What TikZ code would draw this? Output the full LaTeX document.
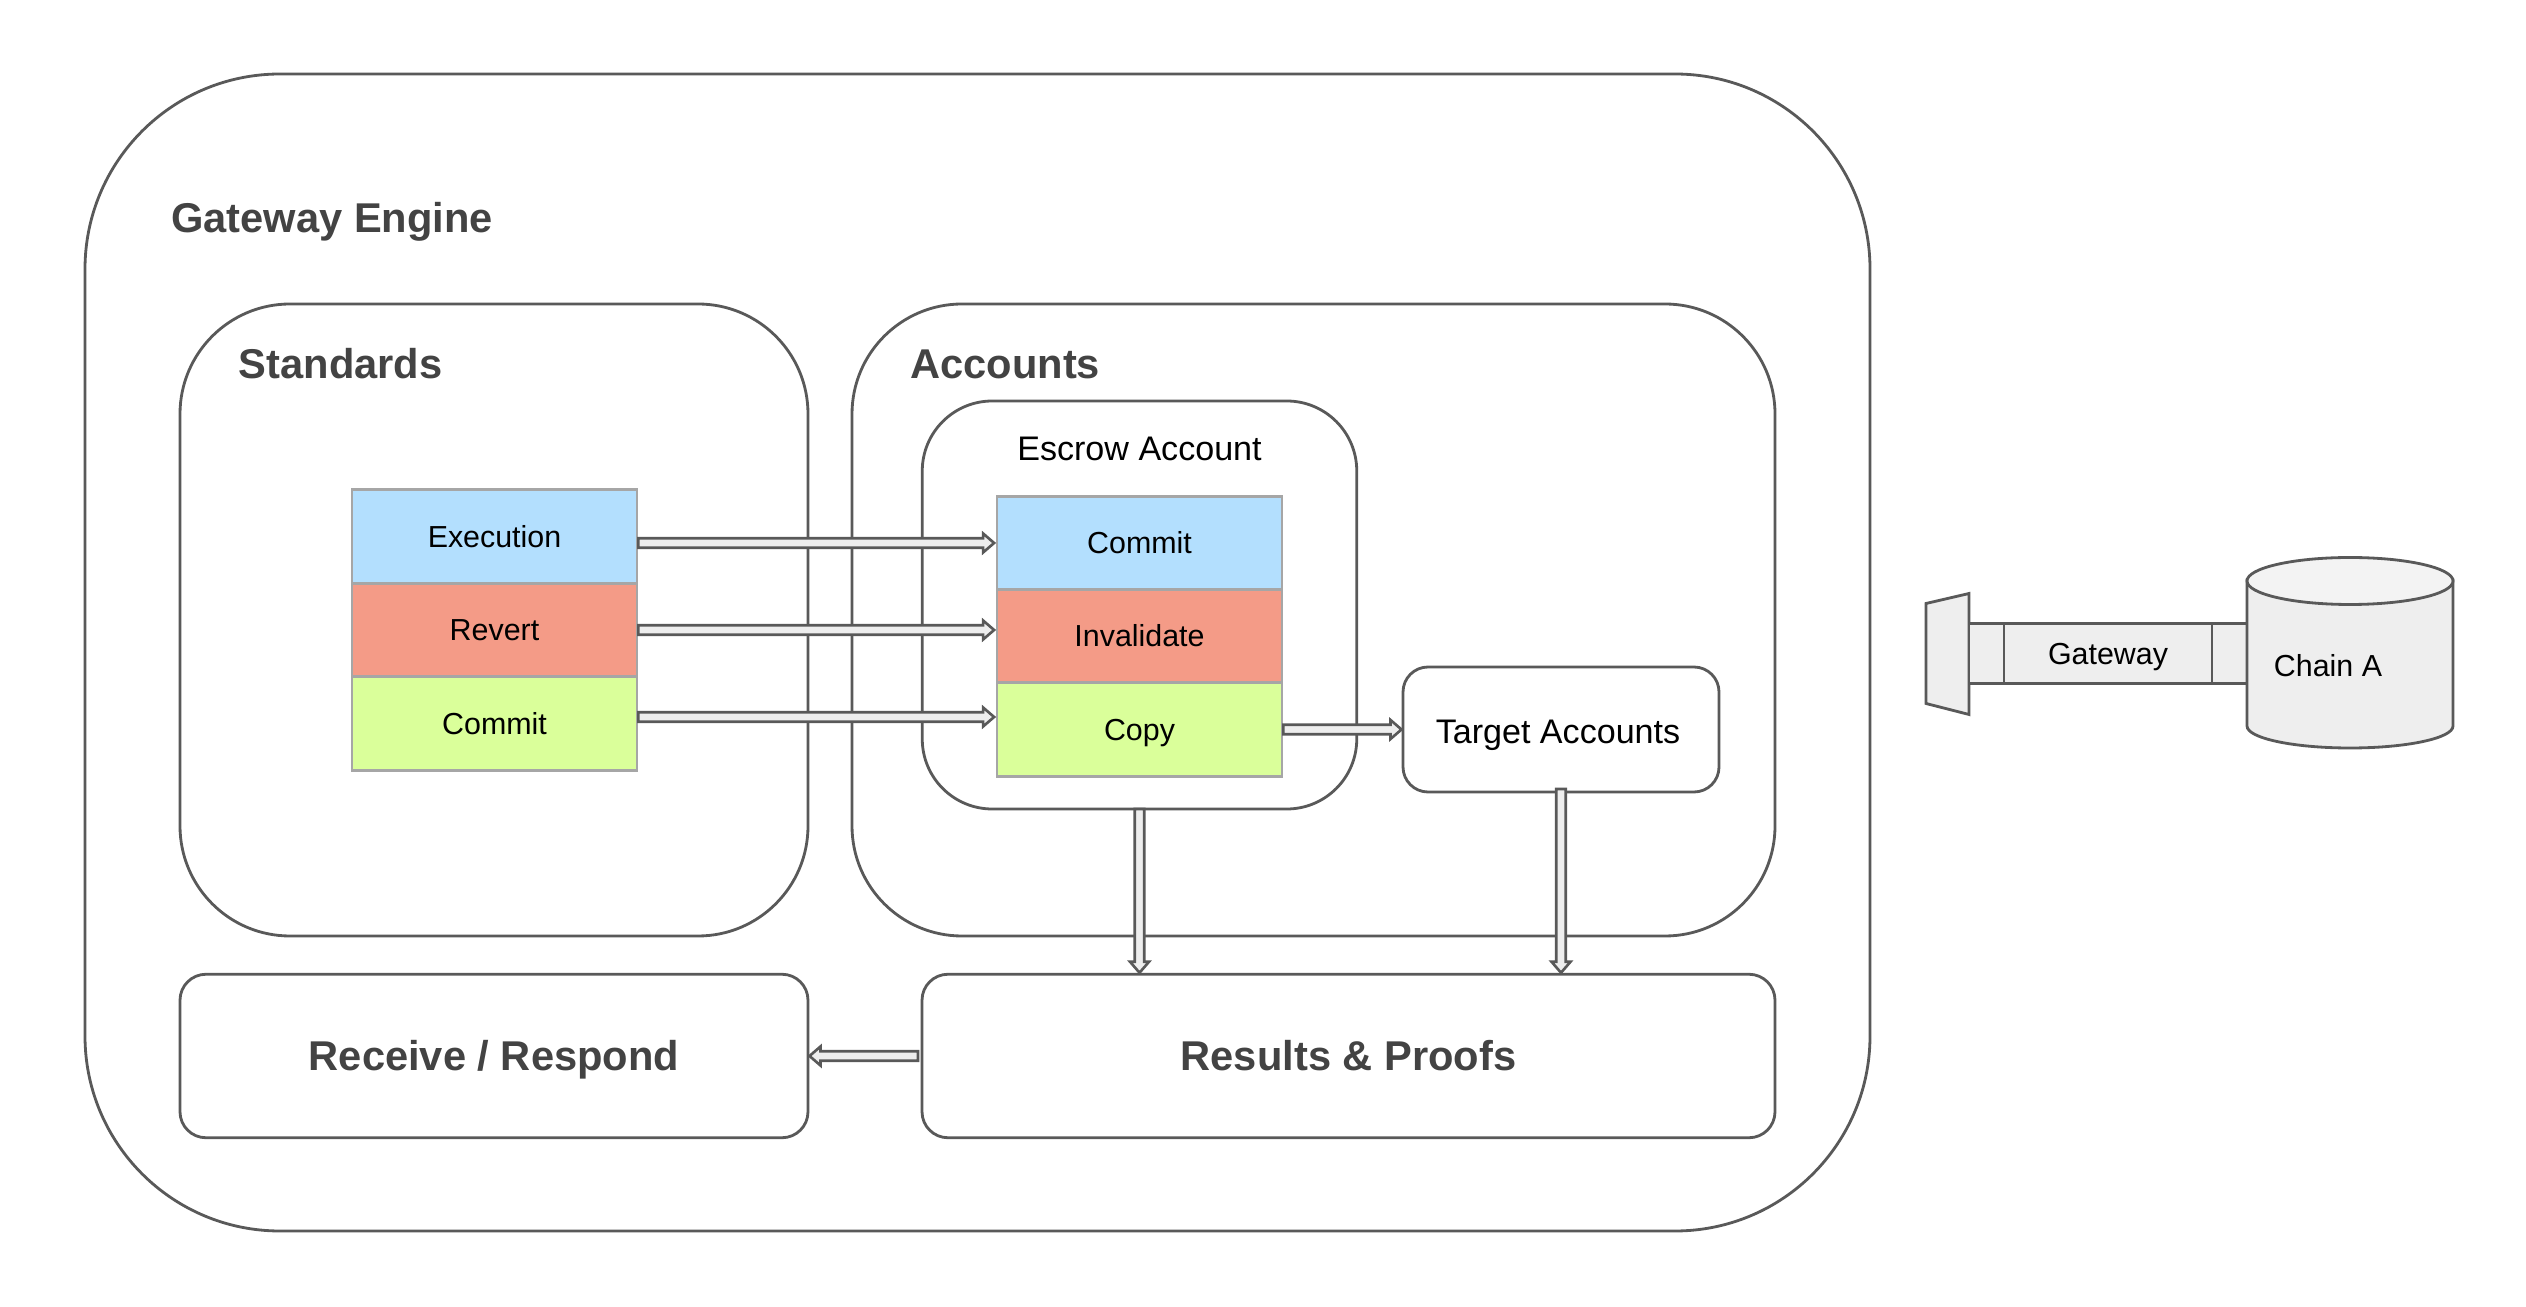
\documentclass[tikz,border=0pt]{standalone}
\usepackage{fontspec}
\setmainfont{Liberation Sans}
\usepackage{tikz}
\usetikzlibrary{calc}
\definecolor{mblue}{HTML}{B3DFFE}
\definecolor{mred}{HTML}{F49B87}
\definecolor{mgreen}{HTML}{DAFF9A}
\definecolor{mline}{HTML}{595959}
\definecolor{mtext}{HTML}{434343}
\definecolor{mfill}{HTML}{EEEEEE}
\definecolor{mtop}{HTML}{F3F3F3}
\definecolor{mrow}{HTML}{A6A6A6}
\tikzset{box/.style = {draw = mline, line width = 1.6pt, inner sep = 0, outer sep = 0}}
\tikzset{boldtext/.style = {text = mtext, font = \fontsize{23.7}{28}\selectfont\bfseries, inner sep = 0, text height = 17pt, text depth = 0}}
\tikzset{midtext/.style = {font = \fontsize{19.4}{23}\selectfont, inner sep = 0, text height = 13.9pt, text depth = 0}}
\tikzset{smalltext/.style = {font = \fontsize{17.3}{21}\selectfont, inner sep = 0, text height = 12.4pt, text depth = 0}}
\tikzset{row/.style = {draw = mrow, line width = 1.6pt, smalltext, minimum height = 1.87cm, minimum width = 5.7cm}}
\tikzset{part/.style = {box, smalltext, fill = mfill, minimum height = 1.2cm}}
\tikzset{blockline/.style = {draw = mline, fill = mfill, line width = 1.5pt, line join = miter}}
\newcommand{\blockarrow}[2]{
  \coordinate (tip) at ($(#2)!0.03cm!(#1)$);
  \coordinate (neck) at ($(tip)!0.22cm!(#1)$);
  \draw [blockline] ($(#1)!0.095cm!90:(tip)$) -- ($(neck)!0.095cm!90:(tip)$)
    -- ($(neck)!0.19cm!90:(tip)$) -- (tip) -- ($(neck)!0.19cm!-90:(tip)$)
    -- ($(neck)!0.095cm!-90:(tip)$) -- ($(#1)!0.095cm!-90:(tip)$) -- cycle;
}

\begin{document}
\begin{tikzpicture}
      \useasboundingbox (0, 0) rectangle (50.52, 26.12);
      \node (engine) [box, rounded corners = 3.9cm, minimum width = 35.7cm, minimum height = 23.14cm] at (19.55, 13.07) {};
      \node (enginetitle) [boldtext, anchor = west] at (3.42, 21.77) {Gateway Engine};
      % the big panels
      \node (standards) [box, rounded corners = 2.2cm, minimum width = 12.56cm, minimum height = 12.64cm] at (9.88, 13.72) {};
      \node (standardstitle) [boldtext, anchor = west] at (4.77, 18.84) {Standards};
      \node (accounts) [box, rounded corners = 2.2cm, minimum width = 18.46cm, minimum height = 12.64cm] at (26.27, 13.72) {};
      \node (accountstitle) [boldtext, anchor = west] at (18.2, 18.84) {Accounts};
      \node (escrow) [box, rounded corners = 1.4cm, minimum width = 8.69cm, minimum height = 8.16cm] at (22.79, 14.02) {};
      \node (escrowtitle) [midtext] at (22.79, 17.16) {Escrow Account};
      \node (target) [box, rounded corners = 0.5cm, minimum width = 6.32cm, minimum height = 2.5cm] at (31.22, 11.53) {};
      \node (targettitle) [midtext] at (31.16, 11.5) {Target Accounts};
      \node (receive) [box, boldtext, rounded corners = 0.52cm, minimum width = 12.56cm, minimum height = 3.27cm] at (9.88, 5) {Receive / Respond};
      \node (results) [box, boldtext, rounded corners = 0.52cm, minimum width = 17.06cm, minimum height = 3.27cm] at (26.97, 5) {Results \& Proofs};
      % the two stacks
      \node (stdexec) [row, fill = mblue] at (9.89, 15.39) {Execution};
      \node (stdrevert) [row, fill = mred] at (9.89, 13.52) {Revert};
      \node (stdcommit) [row, fill = mgreen] at (9.89, 11.65) {Commit};
      \node (esccommit) [row, fill = mblue] at (22.79, 15.26) {Commit};
      \node (escinval) [row, fill = mred] at (22.79, 13.40) {Invalidate};
      \node (esccopy) [row, fill = mgreen] at (22.79, 11.53) {Copy};
      % arrows
      \blockarrow{[yshift = -0.13cm]stdexec.east}{esccommit.west}
      \blockarrow{stdrevert.east}{[yshift = 0.12cm]escinval.west}
      \blockarrow{[yshift = 0.13cm]stdcommit.east}{[yshift = 0.25cm]esccopy.west}
      \blockarrow{esccopy.east}{target.west}
      \blockarrow{escrow.south}{escrow.south |- results.north}
      \blockarrow{[yshift = 0.06cm]target.south}{target.south |- results.north}
      \blockarrow{[xshift = -0.08cm]results.west}{receive.east}
      % gateway and chain
      \draw [box, fill = mfill] (38.52, 14.05) -- (39.38, 14.25) -- (39.38, 11.83) -- (38.52, 12.05) -- cycle;
      \node (gateway) [part, minimum width = 4.16cm] at (42.16, 13.05) {Gateway};
      \node (gateleft) [part, minimum width = 0.7cm] at (39.73, 13.05) {};
      \node (gateright) [part, minimum width = 0.7cm] at (44.59, 13.05) {};
      \draw [box, fill = mfill] (44.94, 14.52) -- (44.94, 11.6) arc [start angle = 180, end angle = 360, x radius = 2.06, y radius = 0.44] -- (49.06, 14.52) -- cycle;
      \draw [box, fill = mtop] (47, 14.5) ellipse [x radius = 2.06, y radius = 0.47];
      \node (chaintitle) [smalltext] at (46.56, 12.81) {Chain A};
    \end{tikzpicture}
\end{document}
